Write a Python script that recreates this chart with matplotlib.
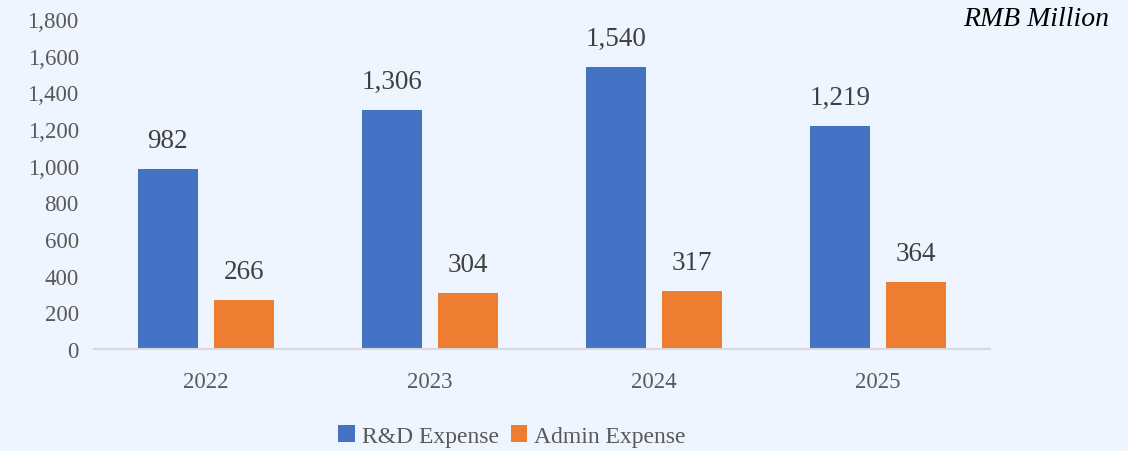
import matplotlib
matplotlib.use("Agg")
import matplotlib.pyplot as plt
import numpy as np

years = ["2022", "2023", "2024", "2025"]
rd_expense = [982, 1306, 1540, 1219]
admin_expense = [266, 304, 317, 364]
yticks = [0, 200, 400, 600, 800, 1000, 1200, 1400, 1600, 1800]

BLUE = "#4472C4"
ORANGE = "#ED7D31"
BG = "#EEF5FE"

plt.rcParams["font.family"] = ["Liberation Serif", "DejaVu Serif"]

fig = plt.figure(figsize=(11.28, 4.52), dpi=100, facecolor=BG)
ax = fig.add_axes([94/1128, 1-350/452, 896/1128, 330/452])
ax.set_facecolor(BG)

x = np.arange(len(years))
off = 0.17
w = 0.268
b1 = ax.bar(x - off, rd_expense, w, color=BLUE, label="R&D Expense")
b2 = ax.bar(x + off, admin_expense, w, color=ORANGE, label="Admin Expense")

for bars, vals in ((b1, rd_expense), (b2, admin_expense)):
    for rect, v in zip(bars, vals):
        ax.annotate(f"{v:,}", (rect.get_x() + rect.get_width()/2, v),
                    xytext=(0, 11.5), textcoords="offset points",
                    ha="center", va="bottom", fontsize=19.5, color="#404040")

ax.set_xlim(-0.5, 3.5)
ax.set_ylim(0, 1800)
ax.set_yticks(yticks)
ax.set_yticklabels([f"{t:,}" for t in yticks])
ax.set_xticks(x)
ax.set_xticklabels(years)
ax.tick_params(axis="both", length=0, labelsize=16.5, labelcolor="#595959")
ax.tick_params(axis="y", pad=11)
ax.tick_params(axis="x", pad=16)
for s in ("top", "right", "left"):
    ax.spines[s].set_visible(False)
ax.spines["bottom"].set_color("#D9D9D9")
ax.spines["bottom"].set_linewidth(1.5)

fig.text(1109/1128, 1-19/452, "RMB Million", ha="right", va="center",
         fontsize=20, style="italic", color="black")

leg = fig.legend(loc="center", bbox_to_anchor=(512/1128, 1-437/452), ncol=2,
                 frameon=False, fontsize=17, handlelength=0.7, handleheight=0.7,
                 handletextpad=0.3, columnspacing=0.5, labelcolor="#595959")

fig.savefig("out.png", dpi=100, facecolor=BG)
